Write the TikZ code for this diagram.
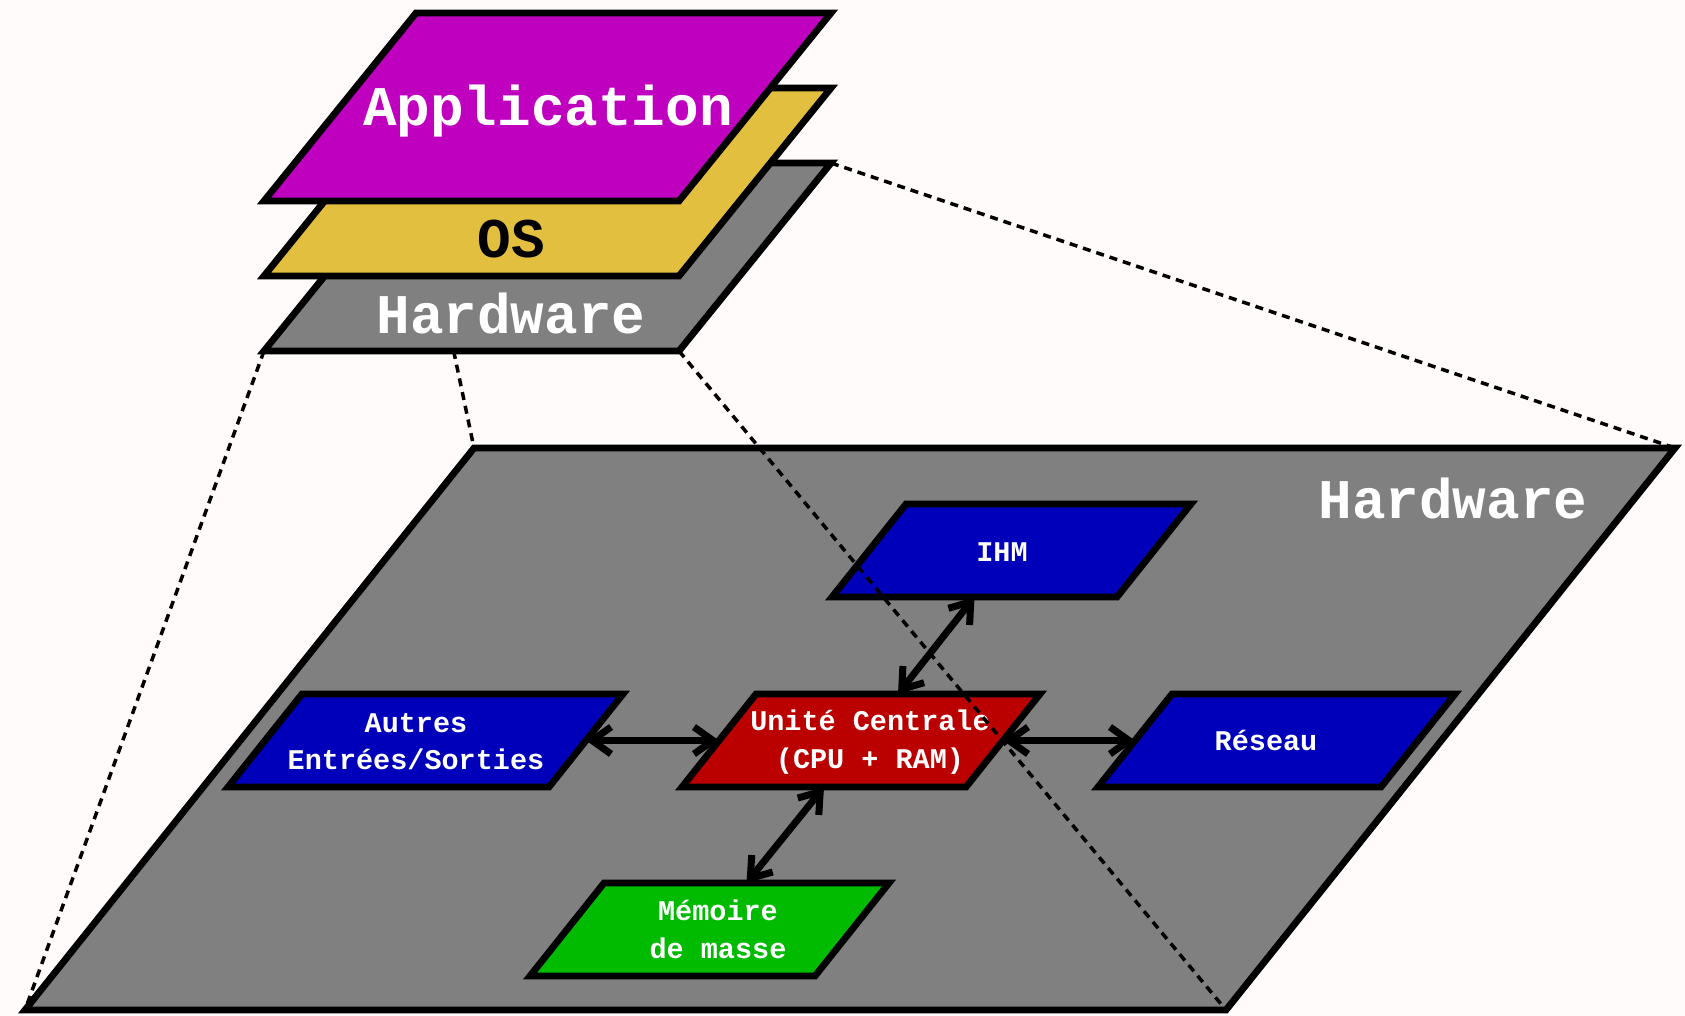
\documentclass[tikz,border=0pt]{standalone}
\usepackage{fontspec}
\newfontfamily\labelfont{Liberation Mono}
\usetikzlibrary{arrows.meta,calc}

\definecolor{paper}{RGB}{254,251,250}
\definecolor{appcol}{RGB}{191,0,191}
\definecolor{oscol}{RGB}{227,191,64}
\definecolor{hwcol}{RGB}{128,128,128}
\definecolor{devblue}{RGB}{0,0,187}
\definecolor{cpured}{RGB}{187,0,0}
\definecolor{diskgreen}{RGB}{0,187,0}

\tikzset{
  plate/.style={draw=black, line width=6.8pt, line join=miter},
  biglabel/.style={font=\labelfont\bfseries\fontsize{56}{60}\selectfont,
                   anchor=base, inner sep=0pt},
  boxlabel/.style={font=\labelfont\bfseries\fontsize{28.5}{37.5}\selectfont,
                   text=white, anchor=base, align=center, inner sep=0pt},
  barb/.tip={Straight Barb[length=19pt,width=27pt]},
  link/.style={line width=7pt, barb-barb},
  guide/.style={line width=3.5pt, dash pattern=on 8pt off 6pt},
}

% one slanted component box: name, left x of bottom edge, bottom y, width, fill
\newcommand\unitbox[5]{%
  \draw[plate,fill=#5] (#2,#3) coordinate (#1-bl) -- ++(#4,0) coordinate (#1-br)
     -- ++(74,-93) coordinate (#1-tr) -- ++(-#4,0) coordinate (#1-tl) -- cycle;
  \coordinate (#1-s) at ($(#1-bl)!0.5!(#1-br)$);
  \coordinate (#1-n) at ($(#1-tl)!0.5!(#1-tr)$);
  \coordinate (#1-w) at ($(#1-bl)!0.5!(#1-tl)$);
  \coordinate (#1-e) at ($(#1-br)!0.5!(#1-tr)$);
}

% one layer of the small stack: name, left x of bottom edge, bottom y, fill
\newcommand\stacklayer[4]{%
  \draw[plate,fill=#4] (#2,#3) coordinate (#1-bl) -- ++(415,0) coordinate (#1-br)
     -- ++(152,-188) coordinate (#1-tr) -- ++(-415,0) coordinate (#1-tl) -- cycle;
}

\begin{document}
\begin{tikzpicture}[x=1pt,y=-1pt]
  \fill[paper] (0,0) rectangle (1685,1016);
  \useasboundingbox (0,0) rectangle (1685,1016);

  % enlarged hardware plane
  \draw[plate,fill=hwcol] (25,1010) coordinate (hw-bl) -- (1226,1010) coordinate (hw-br)
     -- (1675,448) coordinate (hw-tr) -- (474,448) coordinate (hw-tl) -- cycle;
  \node[biglabel,text=white] (hwtitle) at (1453,518) {Hardware};

  % components
  \unitbox{ihm}{832}{597}{285}{devblue}
  \unitbox{autres}{228}{787}{321}{devblue}
  \unitbox{cpu}{682}{787}{284}{cpured}
  \unitbox{reseau}{1098}{787}{283}{devblue}
  \unitbox{mem}{530}{976}{285}{diskgreen}

  % multi-line labels sit on the baseline of their last line
  \node[boxlabel] (ihmlbl) at (1002,561) {IHM};
  \node[boxlabel] (autreslbl) at (416,769.5) {Autres\\Entrées/Sorties};
  \node[boxlabel] (cpulbl) at (870,768) {Unité Centrale\\(CPU + RAM)};
  \node[boxlabel] (reseaulbl) at (1266,750) {Réseau};
  \node[boxlabel] (memlbl) at (718,958) {Mémoire\\de masse};

  % links to the central unit
  \draw[link] (ihm-s) -- (cpu-n);
  \draw[link] (autres-e) -- (cpu-w);
  \draw[link] (cpu-e) -- (reseau-w);
  \draw[link] (cpu-s) -- (mem-n);

  % small layer stack
  \stacklayer{hws}{264}{351}{hwcol}
  \stacklayer{os}{264}{276}{oscol}
  \stacklayer{app}{264}{201}{appcol}
  \node[biglabel,text=white] (applbl) at (548,126) {Application};
  \node[biglabel,text=black] (oslbl) at (511,258) {OS};
  \node[biglabel,text=white] (hwslbl) at (511,333) {Hardware};

  % projection guides from the small hardware layer to the plane
  \coordinate (hws-cut) at ($(hws-bl)!0.457!(hws-br)$);
  \draw[guide] (hws-bl) -- (hw-bl);
  \draw[guide] (hws-cut) -- (hw-tl);
  \draw[guide] (hws-br) -- (hw-br);
  \draw[guide] (hws-tr) -- (hw-tr);
\end{tikzpicture}
\end{document}
